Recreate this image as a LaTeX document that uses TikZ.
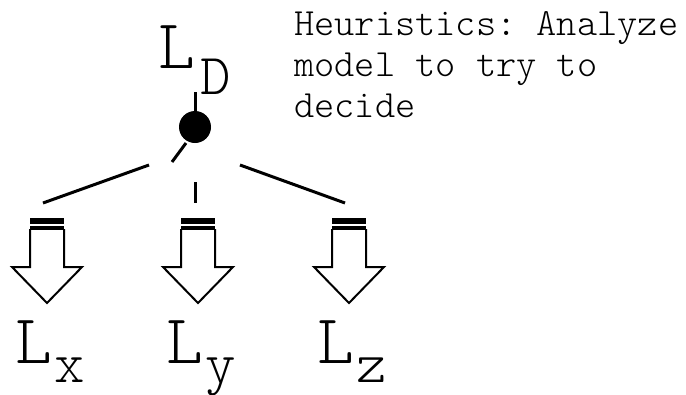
\documentclass[tikz,border=0pt]{standalone}
\usepackage{fontspec}
\setmonofont{lmmonolt10-regular.otf}
\usepackage{tikz}

\tikzset{
  bigL/.style={font=\ttfamily\fontsize{70}{70}\selectfont,inner sep=0pt,anchor=base west},
  subL/.style={font=\ttfamily\fontsize{58}{58}\selectfont,inner sep=0pt,anchor=base west},
  note/.style={font=\ttfamily\fontsize{38.5}{41}\selectfont,inner sep=0pt,anchor=base west,align=left},
  branch/.style={line width=3pt},
}

\begin{document}
\begin{tikzpicture}[x=1pt,y=-1pt]
  \useasboundingbox (0,0) rectangle (686,394);
  % top language and its decision point
  \node[bigL] (LD) at (158,68) {L};
  \node[subL] (LDsub) at (200,94) {D};
  \node[note] (heur) at (294,117) {Heuristics: Analyze\\model to try to\\decide};
  \fill (195,127) circle (16);
  \coordinate (dot) at (195,127);
  \draw[branch] (195,92) -- (195,112);
  \draw[branch] (186,143) -- (172,162);
  % the three branches
  \draw[branch] (149,165) -- (43,203);
  \draw[branch] (195,182) -- (195,203);
  \draw[branch] (240,165) -- (345,203);
  % hollow arrows down to each outcome
  \foreach \c/\name in {47/x,198/y,349/z} {
    \fill (\c-17,218) rectangle (\c+17,223.5);
    \fill (\c-17,226) rectangle (\c+17,229.5);
    \draw[line width=2pt,line join=miter]
      (\c-17,229) -- (\c-17,267) -- (\c-35,267) -- (\c,303)
      -- (\c+35,267) -- (\c+17,267) -- (\c+17,229);
    \node[bigL] (L\name) at (\c-32,363) {L};
    \node[subL] (L\name sub) at (\c+7,382) {\name};
  }
\end{tikzpicture}
\end{document}
